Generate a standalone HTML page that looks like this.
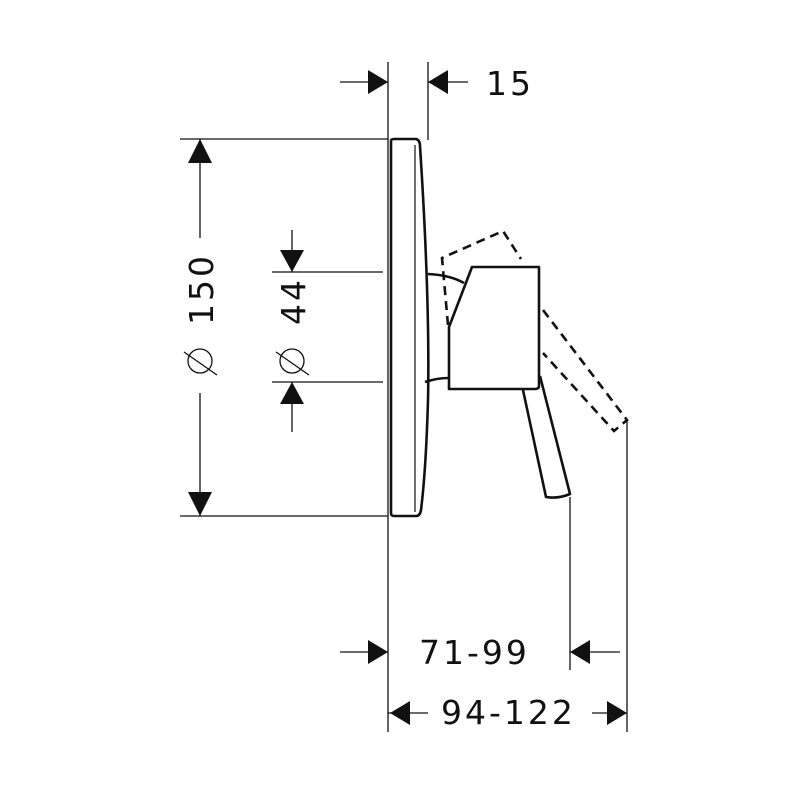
<!DOCTYPE html>
<html><head><meta charset="utf-8"><style>html,body{margin:0;padding:0;background:#fff}svg{display:block}</style></head>
<body>
<svg width="800" height="800" viewBox="0 0 800 800" xmlns="http://www.w3.org/2000/svg">
<g stroke="#111" stroke-width="1.3" fill="none">
<line x1="388" y1="62" x2="388" y2="732"/>
<line x1="428" y1="62" x2="428" y2="140"/>
<line x1="180" y1="139" x2="388" y2="139"/>
<line x1="180" y1="516" x2="388" y2="516"/>
<line x1="272" y1="272" x2="383" y2="272"/>
<line x1="272" y1="382" x2="383" y2="382"/>
<line x1="570" y1="497" x2="570" y2="670"/>
<line x1="627" y1="420" x2="627" y2="732"/>
<line x1="340" y1="82" x2="388" y2="82"/>
<line x1="428" y1="82" x2="468" y2="82"/>
<line x1="200" y1="139" x2="200" y2="238"/>
<line x1="200" y1="393" x2="200" y2="516"/>
<line x1="292" y1="230" x2="292" y2="272"/>
<line x1="292" y1="382" x2="292" y2="432"/>
<line x1="340" y1="652" x2="388" y2="652"/>
<line x1="570" y1="652" x2="620" y2="652"/>
<line x1="388" y1="713" x2="428" y2="713"/>
<line x1="592" y1="713" x2="627" y2="713"/>
</g>
<g fill="#111">
<polygon points="368,70 388,82 368,94"/>
<polygon points="448,70 428,82 448,94"/>
<polygon points="188,163 200,139 212,163"/>
<polygon points="188,492 200,516 212,492"/>
<polygon points="280,250 292,272 304,250"/>
<polygon points="280,404 292,382 304,404"/>
<polygon points="368,640 388,652 368,664"/>
<polygon points="590,640 570,652 590,664"/>
<polygon points="410,701 390,713 410,725"/>
<polygon points="607,701 627,713 607,725"/>
</g>
<g font-family="'DejaVu Sans','Liberation Sans',sans-serif" font-size="33" fill="#111" letter-spacing="3">
<text x="486" y="95">15</text>
<text x="419" y="664">71-99</text>
<text x="441" y="724">94-122</text>
<text transform="translate(213,325) rotate(-90)">150</text>
<text transform="translate(305,325) rotate(-90)">44</text>
</g>
<g stroke="#111" stroke-width="1.3" fill="none">
<circle cx="200" cy="361" r="12"/>
<line x1="184" y1="352" x2="217" y2="375"/>
<circle cx="292" cy="361" r="12"/>
<line x1="276" y1="352" x2="309" y2="375"/>
</g>
<g stroke="#111" stroke-width="2.6" fill="none" stroke-linejoin="round">
<path d="M391,141 Q391,139 394,139 L416,139 Q420,140 420,146 Q430,300 428,400 Q426,470 421,510 Q420,516 416,516 L394,516 Q391,516 391,513 Z"/>
<line x1="415" y1="145" x2="415" y2="512" stroke-width="1.2"/>
<path d="M428,274 Q450,275 464,283"/>
<path d="M425,382 Q437,378 449,378"/>
<path d="M472,267 L539,267 L539,386 Q539,389 535,389 L449,389 L449,327 Z"/>
<path d="M523,390 L546,497 Q558,499 570,494 L540,376"/>
</g>
<g stroke="#111" stroke-width="2.6" fill="none" stroke-dasharray="9,6">
<path d="M448,325 L442,258 L503,231 L521,259"/>
<path d="M543,310 L627,420 L614,431 L543,353"/>
</g>
</svg>
</body></html>
